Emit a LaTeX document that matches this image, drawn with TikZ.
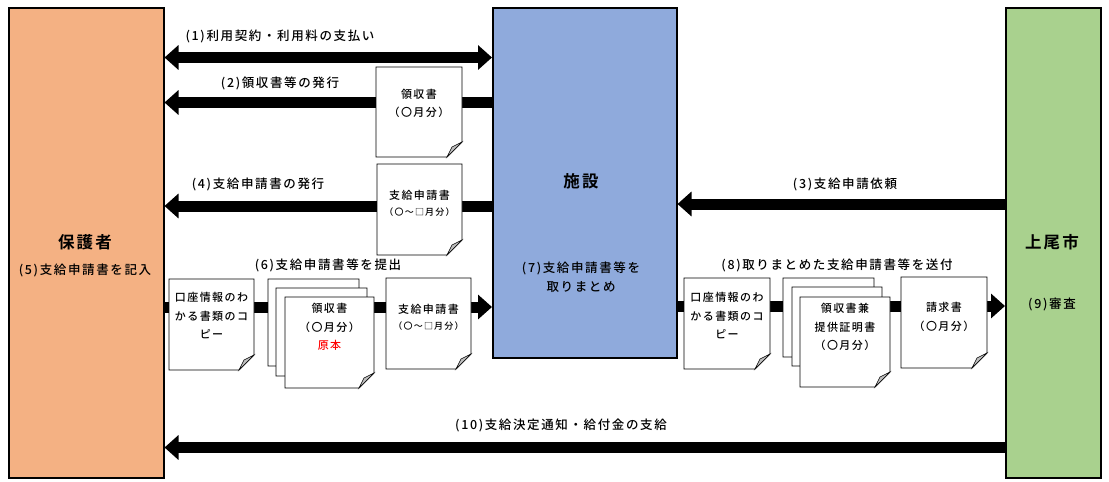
\documentclass[tikz,border=0pt]{standalone}
\usepackage{fontspec}
\setmainfont{Noto Sans CJK JP}
\newfontfamily\lblfont[LetterSpace=13,UprightFont={* Medium},BoldFont={* Bold}]{Noto Sans CJK JP}
\usetikzlibrary{arrows.meta}
\definecolor{orangebox}{HTML}{F4B183}
\definecolor{bluebox}{HTML}{8FAADC}
\definecolor{greenbox}{HTML}{A9D18E}
\definecolor{curlgray}{HTML}{BFBFBF}
\newcommand\docfr[4]{%
  \filldraw[docline,fill=white] (#1,#2) -- (#3,#2) -- (#3,#4-15) -- (#3-15,#4) -- (#1,#4) -- cycle;
  \filldraw[docline,fill=curlgray,line width=0.6pt] (#3,#4-15) -- (#3-15,#4) .. controls (#3-12,#4-6) .. (#3-10,#4-10) .. controls (#3-6,#4-12) .. cycle;
}
\begin{document}
\begin{tikzpicture}[x=1pt,y=-1pt,
  bigbox/.style={draw=black,line width=1.5pt,anchor=north west,inner sep=0pt},
  flow/.style={line width=11pt,-{Triangle[length=14pt,width=24pt]}},
  flowboth/.style={line width=11pt,{Triangle[length=14pt,width=24pt]}-{Triangle[length=14pt,width=24pt]}},
  docline/.style={draw=black,line width=0.9pt},
  lbl/.style={font=\lblfont\fontsize{12.5}{14}\selectfont,inner sep=0pt},
  title/.style={font=\lblfont\fontsize{16.5}{18}\selectfont\bfseries,inner sep=0pt},
  doct/.style={font=\lblfont\fontsize{11}{18.5}\selectfont,align=center,inner sep=0pt},
  smallt/.style={font=\lblfont\fontsize{9}{11}\selectfont,inner sep=0pt}
]
\useasboundingbox (0,0) rectangle (1109,482);
\fill[white] (0,0) rectangle (1109,482);

% main actors
\node[bigbox,fill=orangebox,minimum width=155pt,minimum height=470pt] (hogo) at (8,7) {};
\node[bigbox,fill=bluebox,minimum width=184pt,minimum height=350pt] (shisetsu) at (492,7) {};
\node[bigbox,fill=greenbox,minimum width=95pt,minimum height=470pt] (city) at (1005,7) {};

\node[title] (hogot) at (85,242) {保護者};
\node[lbl] (hogo5) at (85,270) {(5)支給申請書を記入};
\node[title] (shisetsut) at (581,181) {施設};
\node[lbl] (shisetsu7a) at (581,268) {(7)支給申請書等を};
\node[lbl] (shisetsu7b) at (581,287) {取りまとめ};
\node[title] (cityt) at (1052,242) {上尾市};
\node[lbl] (city9) at (1052,304) {(9)審査};

% flows
\draw[flowboth] (hogo.east |- 0,57.5) -- (shisetsu.west |- 0,57.5);
\draw[flow] (shisetsu.west |- 0,102.5) -- (hogo.east |- 0,102.5);
\draw[flow] (shisetsu.west |- 0,206) -- (hogo.east |- 0,206);
\draw[flow] (city.west |- 0,204) -- (shisetsu.east |- 0,204);
\draw[flow] (hogo.east |- 0,307) -- (shisetsu.west |- 0,307);
\draw[flow] (shisetsu.east |- 0,306) -- (city.west |- 0,306);
\draw[flow] (city.west |- 0,447.5) -- (hogo.east |- 0,447.5);

% flow labels
\node[lbl] (l1) at (280,36) {(1)利用契約・利用料の支払い};
\node[lbl] (l2) at (280,83) {(2)領収書等の発行};
\node[lbl] (l4) at (258,184) {(4)支給申請書の発行};
\node[lbl] (l3) at (845,184) {(3)支給申請依頼};
\node[lbl] (l6) at (328,265) {(6)支給申請書等を提出};
\node[lbl] (l8) at (837,265) {(8)取りまとめた支給申請書等を送付};
\node[lbl] (l10) at (561,425) {(10)支給決定通知・給付金の支給};

% documents: upper
\docfr{376}{67}{462}{157}
\node[doct] (rec1) at (419,103.5) {領収書\\（〇月分）};
\docfr{377}{164}{462}{255}
\node[doct] (app1) at (419.5,195) {支給申請書};
\node[smallt] (app1m) at (419.5,212) {（〇～□月分）};

% documents: left chain
\docfr{169}{279}{254}{370}
\node[doct] (acc1) at (211.5,316) {口座情報のわ\\かる書類のコ\\ピー};
\docfr{268}{279}{359}{366}
\docfr{276}{288}{367}{376}
\docfr{285}{297}{374}{388}
\node[doct] (rec2) at (329.5,318) {領収書\\（〇月分）};
\node[font=\lblfont\fontsize{11}{13}\selectfont,text=red,inner sep=0pt] (rec2o) at (329.5,345) {原本};
\docfr{386}{278}{471}{369}
\node[doct] (app2) at (428.5,309) {支給申請書};
\node[smallt] (app2m) at (428.5,326) {（〇～□月分）};

% documents: right chain
\docfr{684}{278}{770}{369}
\node[doct] (acc2) at (727,316) {口座情報のわ\\かる書類のコ\\ピー};
\docfr{783}{278}{874}{357}
\docfr{792}{287}{882}{366}
\docfr{800}{297}{890}{387}
\node[doct] (rec3) at (845,327) {領収書兼\\提供証明書\\（〇月分）};
\docfr{901}{277}{987}{368}
\node[doct] (inv) at (944,317) {請求書\\（〇月分）};
\end{tikzpicture}
\end{document}
